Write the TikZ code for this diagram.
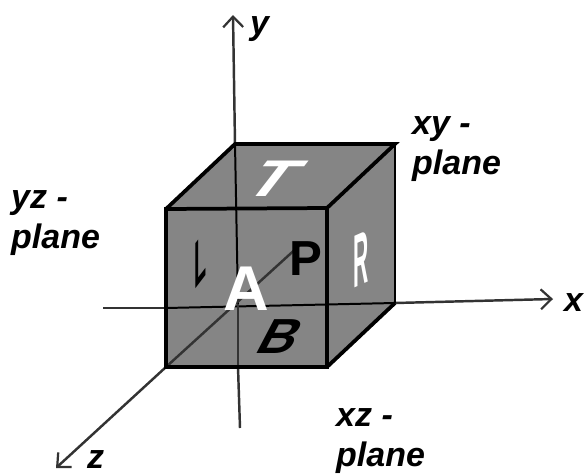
\documentclass[tikz,border=0pt]{standalone}
\usepackage{fontspec}
\setmainfont{Liberation Sans}
\usetikzlibrary{arrows.meta}
\definecolor{facegrey}{gray}{0.52}
\definecolor{axisgrey}{gray}{0.2}
\tikzset{
  axisline/.style={draw=axisgrey,line width=2.1pt},
  axisarrow/.style={axisline,-{Straight Barb[length=9pt,width=17pt,line width=1.9pt]}},
  edgeline/.style={draw=black,line width=3.2pt,line join=miter},
  thinedge/.style={draw=black,line width=2.2pt},
  lab/.style={font=\bfseries\itshape\fontsize{29}{34}\selectfont,text=black,align=left,inner sep=0pt},
  face/.style={font=\bfseries,inner sep=0pt}
}
\begin{document}
\begin{tikzpicture}[x=0.03cm,y=-0.03cm]
\useasboundingbox (0,0) rectangle (584,475);
\fill[white] (0,0) rectangle (584,475);
% cube corners
\coordinate (ftl) at (166,209);
\coordinate (ftr) at (327,208);
\coordinate (fbr) at (327,367);
\coordinate (fbl) at (166,367);
\coordinate (btl) at (235,144);
\coordinate (btr) at (395,144);
\coordinate (bbr) at (395,303);
\coordinate (bbl) at (238,304);
% axis ends
\coordinate (yend) at (233,15);
\coordinate (ybot) at (240,428);
\coordinate (xstart) at (103,308);
\coordinate (xend) at (553,299);
\coordinate (zstart) at (300,245);
\coordinate (zend) at (56,468);
\coordinate (xin) at (166,308);
\coordinate (yout) at (238,367);
% faces
\fill[facegrey] (ftl) -- (btl) -- (btr) -- (bbr) -- (fbr) -- (fbl) -- cycle;
% axes
\draw[axisarrow] (btl) -- (yend);
\draw[axisline] (xstart) -- (xin);
\draw[axisarrow] (bbr) -- (xend);
\draw[axisarrow] (fbl) -- (zend);
\draw[axisline] (yout) -- (ybot);
% hidden lines
\draw[thinedge,line width=1.7pt] (btl) -- (bbl);
\draw[thinedge,line width=1.7pt] (xin) -- (bbr);
\draw[axisline] (fbl) -- (zstart);
\draw[axisline,line width=1.5pt] (bbl) -- (yout);
% cube edges
\draw[edgeline] (ftl) -- (ftr) -- (fbr) -- (fbl) -- cycle;
\draw[edgeline] (ftl) -- (btl) -- (btr) -- (ftr);
\draw[edgeline] (fbr) -- (bbr);
\draw[thinedge] (btr) -- (bbr);
% face letters
\node[face,text=black,font=\bfseries\fontsize{42}{44}\selectfont] (P) at (306,259) {P};
\node[face,text=white,font=\bfseries\fontsize{54}{56}\selectfont] (A) at (246,289) {A};
\node[face,text=white,transform shape,cm={1.5,0,0.85,1.1,(0,0)},font=\bfseries\fontsize{40}{42}\selectfont] (T) at (275,179) {T};
\node[face,text=black,transform shape,cm={1.1,0,0.55,1.05,(0,0)},font=\bfseries\fontsize{40}{42}\selectfont] (B) at (281,337) {B};
\node[face,text=white,transform shape,cm={0.45,0.2,0,1.6,(0,0)},font=\bfseries\fontsize{40}{42}\selectfont] (R) at (361,259) {R};
\node[face,text=black,transform shape,cm={0.42,0.55,0,1.4,(0,0)},font=\bfseries\fontsize{40}{42}\selectfont] (L) at (201,260) {L};
% labels
\node[lab,anchor=north west] (xyl) at (412,116) {xy -\\plane};
\node[lab,anchor=north west] (yzl) at (11,190) {yz -\\plane};
\node[lab,anchor=north west] (xzl) at (336,408) {xz -\\plane};
\node[lab,anchor=base west] (xl) at (564,311) {x};
\node[lab,anchor=base west] (yl) at (250,34) {y};
\node[lab,anchor=base west] (zl) at (87,468) {z};
\end{tikzpicture}
\end{document}
